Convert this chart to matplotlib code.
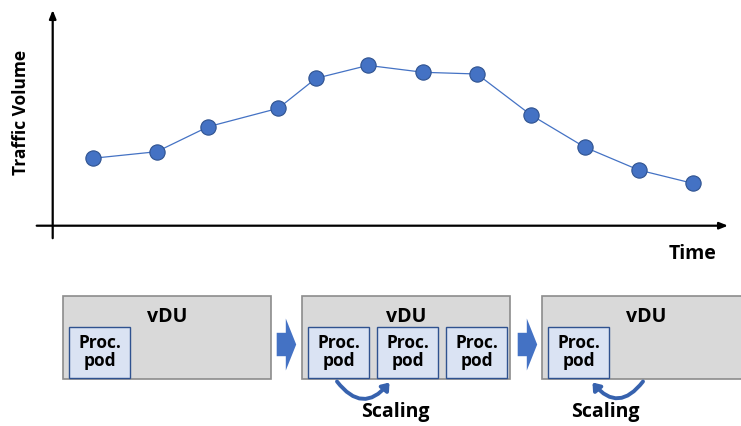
import matplotlib
matplotlib.use('Agg')
import matplotlib.pyplot as plt
import matplotlib.patches as mpatches

plt.rcParams['font.family'] = ['Open Sans', 'DejaVu Sans']

# traffic curve (time position, traffic volume)
time = [40, 104, 155.6, 225.6, 263.3, 315.3, 370.6, 424.3, 478.3, 532.3, 586, 640]
traffic = [67.4, 74, 99, 117.4, 147.4, 160.3, 153.4, 151.7, 110.7, 78.4, 55.7, 42.4]

# vDU stages: number of Proc. pods in each
stage_pods = [1, 3, 1]
stage_left = [62.7, 301.7, 541.7]

BLUE = '#4472C4'
DARK = '#2F528F'

fig = plt.figure(figsize=(7.41, 4.26), dpi=100)

# ---- diagram in pixel coordinates ----
dg = fig.add_axes([0, 0, 1, 1])
dg.set_xlim(0, 741)
dg.set_ylim(426, 0)
dg.axis('off')

box_w, box_top, box_h = 208, 296, 83
pod_w, pod_top, pod_h = 61, 327.3, 50.4
for left, n in zip(stage_left, stage_pods):
    dg.add_patch(mpatches.Rectangle((left, box_top), box_w, box_h,
                                    facecolor='#D9D9D9', edgecolor='#8C8C8C', lw=1.2))
    dg.text(left + box_w / 2, 317.5, 'vDU', ha='center', va='center',
            fontsize=14, fontweight='bold')
    for i in range(n):
        px = left + 6.5 + i * 69
        dg.add_patch(mpatches.Rectangle((px, pod_top), pod_w, pod_h,
                                        facecolor='#DAE3F3', edgecolor=DARK, lw=1.0))
        dg.text(px + pod_w / 2, pod_top + pod_h / 2, 'Proc.\npod', ha='center',
                va='center', fontsize=12.5, fontweight='bold', linespacing=1.0)

# block arrows between stages
for x0 in [276.7, 517.7]:
    dg.add_patch(mpatches.FancyArrow(x0, 344.5, 19.5, 0, width=23.4, head_width=52,
                                     head_length=10.4, length_includes_head=True,
                                     facecolor=BLUE, edgecolor='none'))

# curved scaling arrows
for (p0, p1, rad, tx) in [((337, 381.5), (389.5, 382.5), 0.62, 395),
                          ((643, 381.5), (592.5, 382.5), -0.62, 605)]:
    dg.add_patch(mpatches.FancyArrowPatch(p0, p1, connectionstyle='arc3,rad=%s' % rad,
                                          arrowstyle='-|>,head_length=4,head_width=3',
                                          color='#3762AE', lw=2.8, shrinkA=0, shrinkB=0))
    dg.text(tx, 412.5, 'Scaling', ha='center', va='center',
            fontsize=14, fontweight='bold')

# ---- traffic chart ----
ax = fig.add_axes([52.7 / 741, (426 - 225.7) / 426, 675.3 / 741, 215.7 / 426])
ax.set_xlim(0, 675.3)
ax.set_ylim(0, 215.7)
ax.patch.set_alpha(0)
for s in ax.spines.values():
    s.set_visible(False)
ax.set_xticks([])
ax.set_yticks([])

ax.plot(time, traffic, color=BLUE, lw=0.9, marker='o', ms=11,
        markerfacecolor=BLUE, markeredgecolor=DARK, markeredgewidth=0.8)

ax.annotate('', xy=(675.3, 0), xytext=(-16, 0), annotation_clip=False,
            arrowprops=dict(arrowstyle='-|>,head_length=0.5,head_width=0.2',
                            color='black', lw=1.6, shrinkA=0, shrinkB=0))
ax.annotate('', xy=(0, 215.7), xytext=(0, -12.5), annotation_clip=False,
            arrowprops=dict(arrowstyle='-|>,head_length=0.5,head_width=0.2',
                            color='black', lw=1.6, shrinkA=0, shrinkB=0))

dg.text(21, 112, 'Traffic Volume', rotation=90, ha='center', va='center',
        fontsize=12.5, fontweight='bold')
dg.text(693, 254, 'Time', ha='center', va='center', fontsize=14, fontweight='bold')

fig.savefig('out.png', dpi=100)
